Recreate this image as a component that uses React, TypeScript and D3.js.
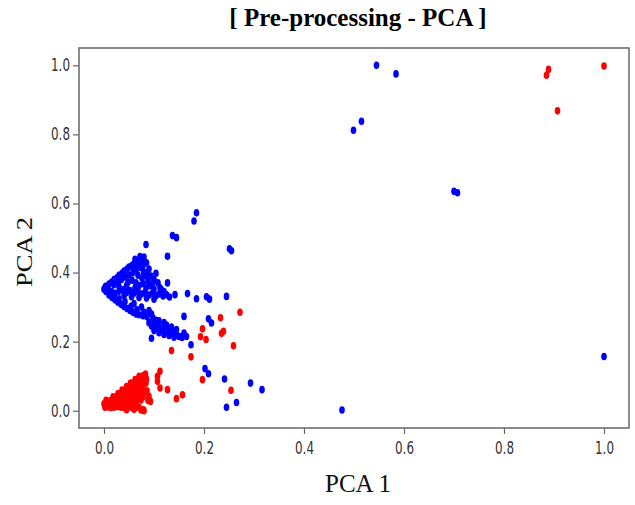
import React, { useEffect, useRef } from "react";
import * as d3 from "d3";

// points, [PCA 1, PCA 2]
const bluePoints: [number, number][] = [
  // far points
  [0.545, 1.0], [0.584, 0.975], [0.515, 0.838], [0.499, 0.812],
  [0.7, 0.635], [0.707, 0.631], [1.0, 0.157], [0.476, 0.002],
  // scattered around the cluster
  [0.185, 0.573], [0.18, 0.549], [0.137, 0.507], [0.145, 0.501],
  [0.251, 0.469], [0.255, 0.463], [0.127, 0.447], [0.084, 0.481],
  [0.104, 0.398], [0.127, 0.37], [0.142, 0.336], [0.167, 0.339],
  [0.185, 0.324], [0.205, 0.33], [0.211, 0.323], [0.245, 0.331],
  [0.16, 0.273], [0.209, 0.266], [0.215, 0.254], [0.174, 0.191],
  [0.202, 0.122], [0.209, 0.107], [0.241, 0.092], [0.293, 0.08],
  [0.316, 0.061], [0.265, 0.024], [0.245, 0.01], [0.155, 0.215],
  [0.095, 0.21], [0.085, 0.428], [0.098, 0.372], [0.112, 0.356],
  // tip of the arrow
  [0.0, 0.352], [0.003, 0.36], [0.004, 0.345], [0.008, 0.355],
  [0.01, 0.367], [0.012, 0.342],
  // upper arm
  [0.015, 0.372], [0.02, 0.38], [0.026, 0.385], [0.03, 0.392],
  [0.036, 0.398], [0.04, 0.404], [0.046, 0.41], [0.05, 0.416],
  [0.056, 0.42], [0.06, 0.425], [0.065, 0.43], [0.07, 0.436],
  [0.075, 0.432], [0.02, 0.365], [0.028, 0.372], [0.035, 0.38],
  [0.042, 0.387], [0.05, 0.393], [0.058, 0.4], [0.065, 0.41],
  [0.072, 0.415], [0.078, 0.42], [0.079, 0.402], [0.068, 0.392],
  [0.076, 0.384], [0.084, 0.39], [0.048, 0.372], [0.056, 0.378],
  [0.064, 0.37], [0.088, 0.375], [0.092, 0.362], [0.03, 0.36],
  [0.045, 0.362], [0.07, 0.362], [0.078, 0.368], [0.086, 0.4],
  [0.09, 0.41], [0.08, 0.445], [0.072, 0.446], [0.062, 0.438],
  [0.094, 0.39], [0.1, 0.38], [0.108, 0.37], [0.115, 0.35],
  [0.12, 0.345],
  // middle band
  [0.015, 0.345], [0.022, 0.34], [0.03, 0.346], [0.038, 0.35],
  [0.045, 0.342], [0.052, 0.348], [0.06, 0.34], [0.068, 0.346],
  [0.075, 0.338], [0.082, 0.343], [0.09, 0.335], [0.097, 0.341],
  [0.104, 0.333], [0.11, 0.338], [0.118, 0.332], [0.125, 0.336],
  [0.131, 0.329], [0.04, 0.333], [0.055, 0.33], [0.07, 0.328],
  [0.085, 0.326], [0.1, 0.323], [0.062, 0.356], [0.084, 0.355],
  [0.1, 0.352],
  // lower arm
  [0.01, 0.335], [0.016, 0.328], [0.022, 0.321], [0.028, 0.314],
  [0.034, 0.308], [0.04, 0.302], [0.046, 0.296], [0.052, 0.29],
  [0.058, 0.285], [0.064, 0.28], [0.07, 0.278], [0.078, 0.275],
  [0.086, 0.272], [0.018, 0.334], [0.03, 0.324], [0.042, 0.316],
  [0.054, 0.302], [0.066, 0.292], [0.06, 0.31], [0.075, 0.3],
  [0.08, 0.285], [0.09, 0.29], [0.095, 0.28],
  // lower band
  [0.09, 0.255], [0.095, 0.245], [0.1, 0.251], [0.105, 0.24],
  [0.11, 0.246], [0.115, 0.235], [0.12, 0.241], [0.125, 0.23],
  [0.13, 0.235], [0.135, 0.225], [0.14, 0.229], [0.145, 0.22],
  [0.15, 0.215], [0.156, 0.212], [0.1, 0.232], [0.11, 0.226],
  [0.12, 0.221], [0.13, 0.218], [0.14, 0.213], [0.104, 0.262],
  [0.098, 0.268], [0.11, 0.26], [0.12, 0.255], [0.125, 0.248],
  [0.135, 0.242], [0.145, 0.235], [0.16, 0.225], [0.165, 0.215],
];

const redPoints: [number, number][] = [
  // far points
  [0.889, 0.988], [0.885, 0.971], [1.0, 0.998], [0.907, 0.868],
  // scattered
  [0.272, 0.285], [0.233, 0.269], [0.239, 0.23], [0.235, 0.224],
  [0.197, 0.237], [0.193, 0.214], [0.204, 0.206], [0.259, 0.188],
  [0.135, 0.174], [0.174, 0.156], [0.197, 0.09], [0.254, 0.059],
  [0.157, 0.046], [0.145, 0.035], [0.127, 0.061], [0.112, 0.114],
  [0.107, 0.1], [0.093, 0.027], [0.079, 0.003], [0.112, 0.066],
  [0.107, 0.085],
  // main cluster near the origin
  [0.002, 0.01], [0.008, 0.011], [0.014, 0.009], [0.02, 0.01],
  [0.027, 0.012], [0.034, 0.01], [0.041, 0.009], [0.048, 0.011],
  [0.055, 0.01], [0.062, 0.008], [0.07, 0.01],
  [0.0, 0.02], [0.006, 0.021], [0.012, 0.019], [0.018, 0.022],
  [0.024, 0.02], [0.03, 0.021], [0.036, 0.019], [0.043, 0.022],
  [0.05, 0.02], [0.057, 0.021], [0.064, 0.019],
  [0.004, 0.03], [0.012, 0.029], [0.02, 0.031], [0.028, 0.03],
  [0.035, 0.032], [0.042, 0.029], [0.05, 0.031], [0.058, 0.03],
  [0.066, 0.028], [0.074, 0.031],
  [0.018, 0.04], [0.026, 0.041], [0.034, 0.039], [0.041, 0.042],
  [0.048, 0.04], [0.055, 0.041], [0.062, 0.039], [0.07, 0.042],
  [0.078, 0.04],
  [0.028, 0.05], [0.036, 0.051], [0.044, 0.049], [0.051, 0.052],
  [0.058, 0.05], [0.065, 0.051], [0.072, 0.049], [0.08, 0.052],
  [0.036, 0.06], [0.044, 0.061], [0.052, 0.059], [0.06, 0.062],
  [0.068, 0.06], [0.076, 0.061], [0.086, 0.058],
  [0.045, 0.07], [0.053, 0.071], [0.061, 0.069], [0.069, 0.072],
  [0.077, 0.07],
  [0.053, 0.08], [0.061, 0.081], [0.069, 0.079], [0.077, 0.082],
  [0.084, 0.08],
  [0.062, 0.09], [0.07, 0.091], [0.078, 0.089], [0.085, 0.092],
  [0.07, 0.1], [0.078, 0.101], [0.083, 0.106],
  [0.08, 0.0], [0.074, 0.002], [0.06, 0.004], [0.045, 0.003],
  [0.09, 0.042], [0.088, 0.03],
];

const xTicks = [0, 0.2, 0.4, 0.6, 0.8, 1.0];
const yTicks = [0, 0.2, 0.4, 0.6, 0.8, 1.0];

const W = 635;
const H = 505;
const frame = { left: 79, right: 629, top: 48, bottom: 428 };

const App = () => {
  const svgRef = useRef<SVGSVGElement>(null);

  useEffect(() => {
    const svg = d3.select(svgRef.current);
    svg.selectAll("*").remove();

    const x = d3.scaleLinear().domain([-0.05, 1.05]).range([frame.left, frame.right]);
    const y = d3.scaleLinear().domain([-0.05, 1.05]).range([frame.bottom, frame.top]);

    svg.append("rect").attr("width", W).attr("height", H).attr("fill", "#fff");

    // title and axis labels
    svg
      .append("text")
      .attr("x", 358)
      .attr("y", 26)
      .attr("text-anchor", "middle")
      .attr("font-family", "'Liberation Serif', 'Times New Roman', serif")
      .attr("font-weight", "bold")
      .attr("font-size", 25)
      .attr("fill", "#000")
      .text("[ Pre-processing - PCA ]");

    svg
      .append("text")
      .attr("x", 358)
      .attr("y", 492)
      .attr("text-anchor", "middle")
      .attr("font-family", "'Liberation Serif', 'Times New Roman', serif")
      .attr("font-size", 25)
      .attr("fill", "#111")
      .text("PCA 1");

    svg
      .append("text")
      .attr("transform", "translate(32,252) rotate(-90)")
      .attr("text-anchor", "middle")
      .attr("font-family", "'Liberation Serif', 'Times New Roman', serif")
      .attr("font-size", 23)
      .attr("fill", "#111")
      .attr("textLength", 70)
      .attr("lengthAdjust", "spacingAndGlyphs")
      .text("PCA 2");

    // axes
    const xAxis = d3.axisBottom(x).tickValues(xTicks).tickFormat(d3.format(".1f")).tickSize(6).tickPadding(8);
    const yAxis = d3.axisLeft(y).tickValues(yTicks).tickFormat(d3.format(".1f")).tickSize(6).tickPadding(3);

    const gx = svg.append("g").attr("transform", `translate(0,${frame.bottom})`).call(xAxis);
    const gy = svg.append("g").attr("transform", `translate(${frame.left},0)`).call(yAxis);

    [gx, gy].forEach((g) => {
      g.select(".domain").remove();
      g.selectAll(".tick line").attr("stroke", "#666").attr("stroke-width", 1.2);
      g.selectAll(".tick text")
        .attr("font-family", "'DejaVu Sans', sans-serif")
        .attr("font-size", 17)
        .attr("fill", "#333")
        .attr("textLength", 19)
        .attr("lengthAdjust", "spacingAndGlyphs");
    });

    // points
    svg
      .append("g")
      .selectAll("ellipse")
      .data(bluePoints)
      .enter()
      .append("ellipse")
      .attr("cx", (d) => x(d[0]))
      .attr("cy", (d) => y(d[1]))
      .attr("rx", 2.8)
      .attr("ry", 3.8)
      .attr("fill", "#0000ff");

    svg
      .append("g")
      .selectAll("ellipse")
      .data(redPoints)
      .enter()
      .append("ellipse")
      .attr("cx", (d) => x(d[0]))
      .attr("cy", (d) => y(d[1]))
      .attr("rx", 2.8)
      .attr("ry", 3.8)
      .attr("fill", "#ff0000");

    // frame
    svg
      .append("rect")
      .attr("x", frame.left)
      .attr("y", frame.top)
      .attr("width", frame.right - frame.left)
      .attr("height", frame.bottom - frame.top)
      .attr("fill", "none")
      .attr("stroke", "#707070")
      .attr("stroke-width", 1.6);
  }, []);

  return (
    <svg
      ref={svgRef}
      width={W}
      height={H}
      style={{ position: "absolute", left: 0, top: 0 }}
    ></svg>
  );
};

export default App;
